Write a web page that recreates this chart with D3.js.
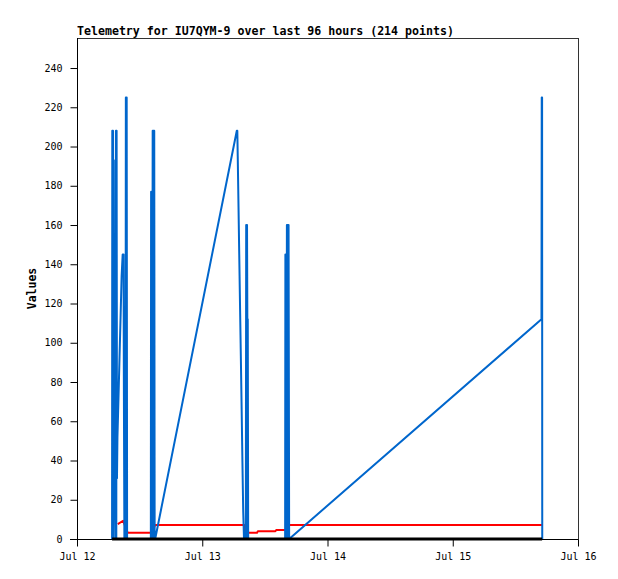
<!DOCTYPE html>
<html>
<head>
<meta charset="utf-8">
<script src="https://cdn.jsdelivr.net/npm/d3@7/dist/d3.min.js"></script>
<style>
  html, body { margin: 0; padding: 0; background: #fff; }
  svg { display: block; }
</style>
</head>
<body>
<div id="chart"></div>
<script>
// ---- data ----
const title = "Telemetry for IU7QYM-9 over last 96 hours (214 points)";
const yLabel = "Values";
const startDate = "2024-07-12T00:00:00Z";
const endDate = "2024-07-16T00:00:00Z";
const yTicks = [0, 20, 40, 60, 80, 100, 120, 140, 160, 180, 200, 220, 240];
const yMax = 255.3;

// hours after Jul 12 00:00
const blueHours = [6.72, 6.76, 6.84, 6.90, 6.98, 7.04, 7.12, 7.25, 7.40, 7.46, 7.53, 7.59, 7.66,
  7.75, 7.95, 8.15, 8.35, 8.55, 8.75, 8.92, 8.98, 9.08,
  9.30, 9.36, 9.44, 9.52, 9.60,
  14.15, 14.20, 14.28, 14.35, 14.42, 14.50, 14.58, 14.66, 14.74, 14.80, 14.88, 14.98,
  30.62, 30.72, 30.80, 30.95, 31.10, 31.25, 31.40, 31.55, 31.70, 31.85, 32.00,
  32.35, 32.42, 32.50, 32.58, 32.64, 32.72, 32.80,
  39.88, 39.93, 40.00, 40.07, 40.14, 40.22, 40.30, 40.38, 40.46, 40.54, 40.65,
  89.00, 89.05, 89.12, 89.15];
const blueValues = [0, 208, 0, 208, 0, 193, 31, 49, 0, 208, 0, 208, 31,
  52, 72, 93, 113, 134, 145, 145, 80, 0,
  0, 225, 0, 225, 0,
  0, 177, 0, 177, 0, 208, 0, 208, 0, 208, 0, 0,
  208, 208, 195, 169, 143, 117, 92, 66, 39, 14, 0,
  0, 160, 0, 160, 112, 112, 0,
  0, 145, 0, 145, 0, 160, 0, 160, 0, 160, 0,
  112, 225, 225, 0];

const redHours = [7.81, 8.83, 9.70, 14.21, 14.98, 32.06, 32.26, 34.50, 34.66, 38.02, 38.21, 40.13, 40.32, 89.09];
const redValues = [7.6, 9.3, 3.2, 3.2, 7.1, 7.1, 3.2, 3.2, 4.0, 4.0, 4.6, 4.6, 7.1, 7.1];

const blackHours = [6.72, 89.12];
const blackValues = [0, 0];

// ---- layout ----
const W = 618, H = 579;
const mL = 77, mR = 578, mT = 38, mB = 539;
const mono = "'DejaVu Sans Mono', monospace";

const svg = d3.select("#chart").append("svg").attr("width", W).attr("height", H);
svg.append("rect").attr("width", W).attr("height", H).attr("fill", "#fff");

const t0 = new Date(startDate);
const toDate = h => new Date(t0.getTime() + h * 3600 * 1000);

const x = d3.scaleUtc().domain([t0, new Date(endDate)]).range([mL, mR]);
const y = d3.scaleLinear().domain([0, yMax]).range([mB, mT]);

// frame top/right
svg.append("line").attr("x1", mL).attr("x2", mR).attr("y1", mT + 0.5).attr("y2", mT + 0.5)
  .attr("stroke", "#333").attr("stroke-width", 1);
svg.append("line").attr("x1", mR + 0.5).attr("x2", mR + 0.5).attr("y1", mT).attr("y2", mB + 7)
  .attr("stroke", "#333").attr("stroke-width", 1);

// y axis
const yAxis = d3.axisLeft(y).tickValues(yTicks).tickSize(7).tickPadding(8);
const gy = svg.append("g").attr("transform", `translate(${mL + 0.5},0)`).call(yAxis);
gy.select(".domain").remove();
gy.selectAll(".tick text").attr("font-family", mono).attr("font-size", 10).attr("fill", "#000");
gy.selectAll(".tick line").attr("stroke", "#000");
svg.append("line").attr("x1", mL + 0.5).attr("x2", mL + 0.5).attr("y1", mT).attr("y2", mB + 7)
  .attr("stroke", "#000");

// x axis
const xAxis = d3.axisBottom(x).ticks(d3.utcDay.every(1)).tickFormat(d3.utcFormat("%b %d")).tickSize(7).tickPadding(6);
const gx = svg.append("g").attr("transform", `translate(0,${mB + 0.5})`).call(xAxis);
gx.select(".domain").remove();
gx.selectAll(".tick text").attr("font-family", mono).attr("font-size", 10).attr("fill", "#000");
gx.selectAll(".tick line").attr("stroke", "#000");
svg.append("line").attr("x1", mL - 7).attr("x2", mR).attr("y1", mB + 0.5).attr("y2", mB + 0.5)
  .attr("stroke", "#000");

// series
const line = d3.line().x(d => x(toDate(d[0]))).y(d => y(d[1]));
const g = svg.append("g");
g.append("path").datum(d3.zip(redHours, redValues)).attr("d", line)
  .attr("fill", "none").attr("stroke", "#ff0000").attr("stroke-width", 2).attr("stroke-linejoin", "round");
g.append("path").datum(d3.zip(blueHours, blueValues)).attr("d", line)
  .attr("fill", "none").attr("stroke", "#0066cc").attr("stroke-width", 2).attr("stroke-linejoin", "round");
g.append("path").datum(d3.zip(blackHours, blackValues)).attr("d", line)
  .attr("fill", "none").attr("stroke", "#000").attr("stroke-width", 3);

// title
svg.append("text").attr("x", mL).attr("y", 35).text(title)
  .attr("font-family", mono).attr("font-size", 11.6).attr("font-weight", "bold").attr("fill", "#000");

// y label
svg.append("text").attr("transform", `translate(36,${(mT + mB) / 2}) rotate(-90)`)
  .attr("text-anchor", "middle").text(yLabel)
  .attr("font-family", mono).attr("font-size", 11.5).attr("font-weight", "bold").attr("fill", "#000");
</script>
</body>
</html>
